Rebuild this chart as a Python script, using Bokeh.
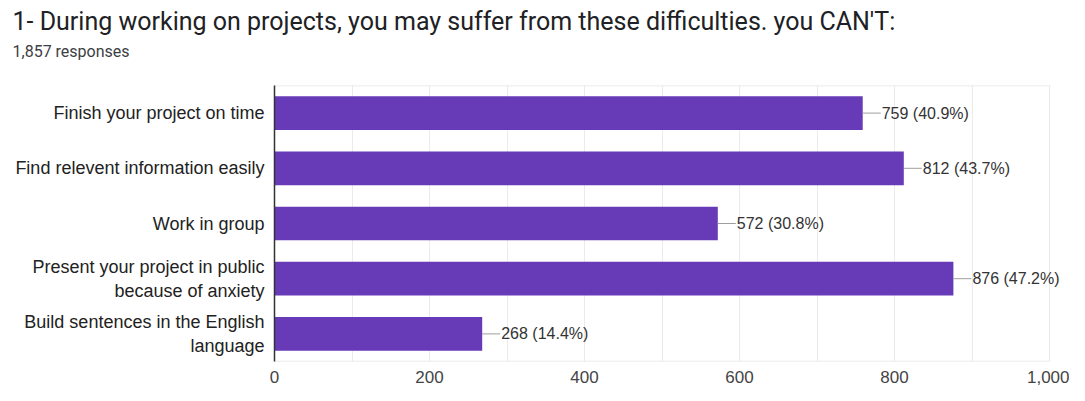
from bokeh.plotting import figure
from bokeh.models import (FactorRange, Range1d, SingleIntervalTicker,
                          NumeralTickFormatter, Title, ColumnDataSource, LabelSet)
from bokeh.embed import file_html
from bokeh.resources import INLINE
from bokeh.core.properties import value

title_text = "1- During working on projects, you may suffer from these difficulties. you CAN'T:"
subtitle_text = "1,857 responses"
categories = [
    "Finish your project on time",
    "Find relevent information easily",
    "Work in group",
    "Present your project in public\nbecause of anxiety",
    "Build sentences in the English\nlanguage",
]
counts = [759, 812, 572, 876, 268]
percents = [40.9, 43.7, 30.8, 47.2, 14.4]
x_max = 1000

W, H = 1069, 385
LEFT = 274
AXIS_END_PX = 1049          # pixel where x_max sits
px_to_data = x_max / (AXIS_END_PX - LEFT)
x_end = (W - LEFT) * px_to_data   # frame runs to the figure edge so labels fit
leader_px = 18

labels = [f"{c} ({p:.1f}%)" for c, p in zip(counts, percents)]
src = ColumnDataSource(dict(
    cat=categories,
    count=counts,
    lead_end=[c + leader_px * px_to_data for c in counts],
    label=labels,
))

p = figure(width=W, height=H, title=None,
           y_range=FactorRange(*reversed(categories)),
           x_range=Range1d(0, x_end),
           output_backend="svg", toolbar_location=None,
           min_border_left=LEFT, min_border_right=0,
           min_border_top=0, min_border_bottom=0)

# light frame border (top / bottom), right edge comes from the grid line at x_max
border = ColumnDataSource(dict(
    x0=[0, 0], x1=[x_max, x_max],
    y=[(categories[0], 0.5), (categories[-1], -0.5)],
))
p.segment(x0="x0", x1="x1", y0="y", y1="y", source=border,
          line_color="#e6e6e6", line_width=1.5)

p.hbar(y="cat", right="count", left=0, height=0.61, source=src,
       fill_color="#673ab7", line_color=None)
p.segment(x0="count", y0="cat", x1="lead_end", y1="cat", source=src,
          line_color="#9e9e9e", line_width=1)
p.add_layout(LabelSet(x="count", y="cat", text="label", source=src,
                      x_offset=leader_px + 1, text_align="left",
                      text_baseline="middle", text_font=value("Liberation Sans"),
                      text_font_size=value("16px"), text_color="#333333"))

p.xaxis.ticker = SingleIntervalTicker(interval=200, num_minor_ticks=2)
p.xaxis.formatter = NumeralTickFormatter(format="0,0")
p.xaxis.axis_line_color = None
p.xaxis.major_tick_line_color = None
p.xaxis.minor_tick_line_color = None
p.xaxis.major_label_standoff = 3
p.xaxis.major_label_text_font = "Liberation Sans"
p.xaxis.major_label_text_font_size = "17px"
p.xaxis.major_label_text_color = "#444444"

p.yaxis.axis_line_color = "#333333"
p.yaxis.axis_line_width = 1.5
p.yaxis.major_tick_line_color = None
p.yaxis.minor_tick_line_color = None
p.yaxis.major_label_standoff = 4
p.yaxis.major_label_text_font = "Liberation Sans"
p.yaxis.major_label_text_font_size = "18px"
p.yaxis.major_label_text_color = "#222222"

p.xgrid.grid_line_color = "#ebebeb"
p.xgrid.minor_grid_line_color = "#ebebeb"
p.ygrid.grid_line_color = None
p.outline_line_color = None

# spacer between the subtitle and the plot frame
p.add_layout(Title(text=" ", text_font_size="1px", standoff=22), "above")
p.add_layout(Title(text=subtitle_text, text_font="Roboto", text_font_size="16px",
                   text_font_style="normal", text_color="#3c4043",
                   align="left", offset=-(LEFT - 12), standoff=0), "above")
p.add_layout(Title(text=title_text, text_font="Roboto", text_font_size="25px",
                   text_font_style="normal", text_color="#202124",
                   align="left", offset=-(LEFT - 12), standoff=8), "above")

open("out.html", "w").write(file_html(p, INLINE))
